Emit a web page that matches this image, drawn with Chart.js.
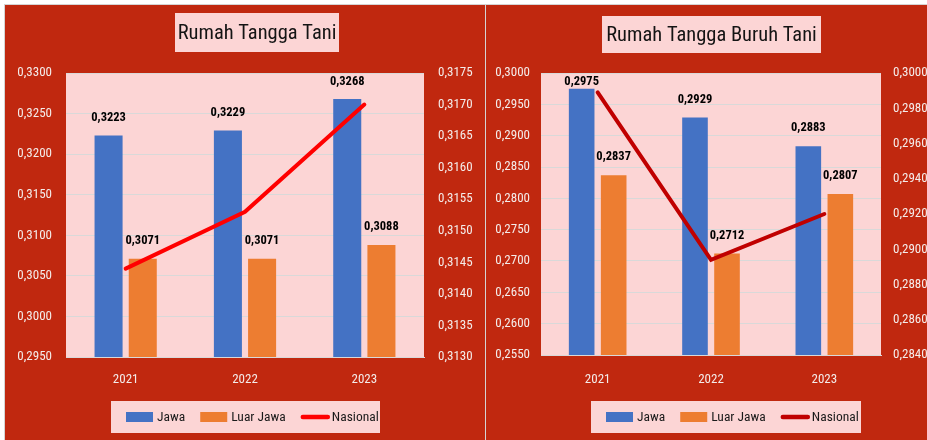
<!DOCTYPE html>
<html><head><meta charset="utf-8">
<script src="https://cdn.jsdelivr.net/npm/chart.js@4/dist/chart.umd.min.js"></script>
<style>
html,body{margin:0;padding:0;background:#fff;}
#wrap{position:relative;width:927px;height:440px;overflow:hidden;background:#fff;}
#frame{position:absolute;left:4px;top:4px;width:923px;height:436px;background:#D4D4D4;}
.panel{position:absolute;top:5px;height:435px;background:#C0280F;}
#pA{left:5px;width:480px;}
#pB{left:486px;width:441px;}
canvas{display:block;}
</style></head>
<body>
<div id="wrap">
  <div id="frame"></div>
  <div class="panel" id="pA"><canvas id="cA" width="480" height="435"></canvas></div>
  <div class="panel" id="pB"><canvas id="cB" width="441" height="435"></canvas></div>
</div>
<script>
// ---------- data ----------
const years = ['2021', '2022', '2023'];
const seriesNames = ['Jawa', 'Luar Jawa', 'Nasional'];

const taniTitle = 'Rumah Tangga Tani';
const taniJawa = [0.3223, 0.3229, 0.3268];
const taniLuarJawa = [0.3071, 0.3071, 0.3088];
const taniNasional = [0.3144, 0.3153, 0.3170];
const taniLeftTicks = [0.2950, 0.3000, 0.3050, 0.3100, 0.3150, 0.3200, 0.3250, 0.3300];
const taniRightTicks = [0.3130, 0.3135, 0.3140, 0.3145, 0.3150, 0.3155, 0.3160, 0.3165, 0.3170, 0.3175];

const buruhTitle = 'Rumah Tangga Buruh Tani';
const buruhJawa = [0.2975, 0.2929, 0.2883];
const buruhLuarJawa = [0.2837, 0.2712, 0.2807];
const buruhNasional = [0.2989, 0.2894, 0.2920];
const buruhLeftTicks = [0.2550, 0.2600, 0.2650, 0.2700, 0.2750, 0.2800, 0.2850, 0.2900, 0.2950, 0.3000];
const buruhRightTicks = [0.2840, 0.2860, 0.2880, 0.2900, 0.2920, 0.2940, 0.2960, 0.2980, 0.3000];

// ---------- style ----------
const FONT = '"Roboto Condensed", "DejaVu Sans Condensed", sans-serif';
const PINK = '#FCD5D5';
const BLUE = '#4472C4';
const ORANGE = '#ED7D31';
const TICK = '#F4ECEA';
const GRID = '#D9D9D9';
const fmt = v => Number(v).toFixed(4).replace('.', ',');

const panelPlugin = {
  id: 'panelDeco',
  beforeDraw(chart) {
    const {ctx, chartArea: a} = chart;
    ctx.save();
    ctx.fillStyle = PINK;
    ctx.fillRect(a.left, a.top, a.right - a.left, a.bottom - a.top);
    ctx.restore();
  },
  afterDatasetsDraw(chart) {
    const {ctx, chartArea} = chart;
    ctx.save();
    ctx.font = 'bold 12.5px ' + FONT;
    ctx.fillStyle = '#000';
    ctx.textAlign = 'center';
    ctx.textBaseline = 'middle';
    chart.data.datasets.forEach((ds, i) => {
      if (ds.type === 'line') return;
      chart.getDatasetMeta(i).data.forEach((el, j) => {
        const y = Math.max(el.y - 18, chartArea.top + 9);
        ctx.fillText(fmt(ds.data[j]), el.x, y);
      });
    });
    ctx.restore();
  },
  afterDraw(chart) {
    const o = chart.options.plugins.panelDeco;
    const ctx = chart.ctx;
    ctx.save();
    // title box
    const t = o.title;
    ctx.fillStyle = PINK;
    ctx.fillRect(t.x, t.y, t.w, t.h);
    ctx.fillStyle = '#141414';
    ctx.font = '20.5px ' + FONT;
    ctx.textAlign = 'center';
    ctx.textBaseline = 'middle';
    ctx.fillText(t.text, t.x + t.w / 2, t.y + t.h / 2 + 1);
    // legend box
    const L = o.legend;
    ctx.fillStyle = PINK;
    ctx.fillRect(L.x, L.y, L.w, L.h);
    ctx.font = '13.5px ' + FONT;
    ctx.textAlign = 'left';
    let x = L.x + 15;
    const cy = L.y + L.h / 2;
    chart.data.datasets.forEach((ds) => {
      if (ds.type === 'line') {
        ctx.strokeStyle = ds.borderColor;
        ctx.lineWidth = 4.5;
        ctx.lineCap = 'round';
        ctx.beginPath();
        ctx.moveTo(x + 2, cy);
        ctx.lineTo(x + 27, cy);
        ctx.stroke();
      } else {
        ctx.fillStyle = ds.backgroundColor;
        ctx.fillRect(x, cy - 5, 27, 10);
      }
      x += 31;
      ctx.fillStyle = '#1a1a1a';
      ctx.fillText(ds.label, x, cy + 1);
      x += ctx.measureText(ds.label).width + 15;
    });
    ctx.restore();
  }
};

function makeChart(id, cfg) {
  const tickFont = {family: FONT, size: 13};
  return new Chart(document.getElementById(id), {
    data: {
      labels: years,
      datasets: [
        {type: 'bar', label: seriesNames[0], data: cfg.jawa, yAxisID: 'y',
         backgroundColor: BLUE, categoryPercentage: cfg.catPct, barPercentage: cfg.barPct, order: 1},
        {type: 'bar', label: seriesNames[1], data: cfg.luar, yAxisID: 'y',
         backgroundColor: ORANGE, categoryPercentage: cfg.catPct, barPercentage: cfg.barPct, order: 1},
        {type: 'line', label: seriesNames[2], data: cfg.nasional, yAxisID: 'y1',
         borderColor: cfg.lineColor, backgroundColor: cfg.lineColor, borderWidth: 4,
         pointRadius: 0, tension: 0, borderCapStyle: 'round', order: 0}
      ]
    },
    options: {
      responsive: false,
      animation: false,
      layout: {padding: {top: 68, left: 0, right: 0, bottom: 0}},
      plugins: {
        legend: {display: false},
        title: {display: false},
        tooltip: {enabled: false},
        panelDeco: {title: cfg.title, legend: cfg.legend}
      },
      scales: {
        x: {
          grid: {display: false, drawTicks: false},
          border: {display: true, color: GRID, width: 1},
          ticks: {color: TICK, font: tickFont, padding: cfg.xPad},
          afterFit: s => { s.height = cfg.xH; }
        },
        y: {
          position: 'left', min: cfg.leftTicks[0], max: cfg.leftTicks[cfg.leftTicks.length - 1],
          afterBuildTicks: s => { s.ticks = cfg.leftTicks.map(v => ({value: v})); },
          grid: {color: GRID, lineWidth: 1, drawTicks: false},
          border: {display: false},
          ticks: {color: TICK, font: tickFont, padding: cfg.lPad, callback: v => fmt(v)},
          afterFit: s => { s.width = cfg.lW; }
        },
        y1: {
          position: 'right', min: cfg.rightTicks[0], max: cfg.rightTicks[cfg.rightTicks.length - 1],
          afterBuildTicks: s => { s.ticks = cfg.rightTicks.map(v => ({value: v})); },
          grid: {display: false, drawTicks: false},
          border: {display: false},
          ticks: {color: TICK, font: tickFont, padding: cfg.rPad, callback: v => fmt(v)},
          afterFit: s => { s.width = cfg.rW; }
        }
      }
    },
    plugins: [panelPlugin]
  });
}

makeChart('cA', {
  jawa: taniJawa, luar: taniLuarJawa, nasional: taniNasional,
  leftTicks: taniLeftTicks, rightTicks: taniRightTicks, lineColor: '#FF0000',
  catPct: 0.573, barPct: 0.82,
  lW: 61, rW: 61, xH: 83, lPad: 14, rPad: 14, xPad: 15,
  title: {text: taniTitle, x: 170, y: 8, w: 164, h: 39},
  legend: {x: 106, y: 396, w: 269, h: 32}
});

makeChart('cB', {
  jawa: buruhJawa, luar: buruhLuarJawa, nasional: buruhNasional,
  leftTicks: buruhLeftTicks, rightTicks: buruhRightTicks, lineColor: '#C00000',
  catPct: 0.565, barPct: 0.8,
  lW: 55, rW: 46, xH: 85, lPad: 11, rPad: 12, xPad: 17,
  title: {text: buruhTitle, x: 116, y: 11, w: 219, h: 37},
  legend: {x: 105, y: 396, w: 270, h: 32}
});
</script>
</body></html>
